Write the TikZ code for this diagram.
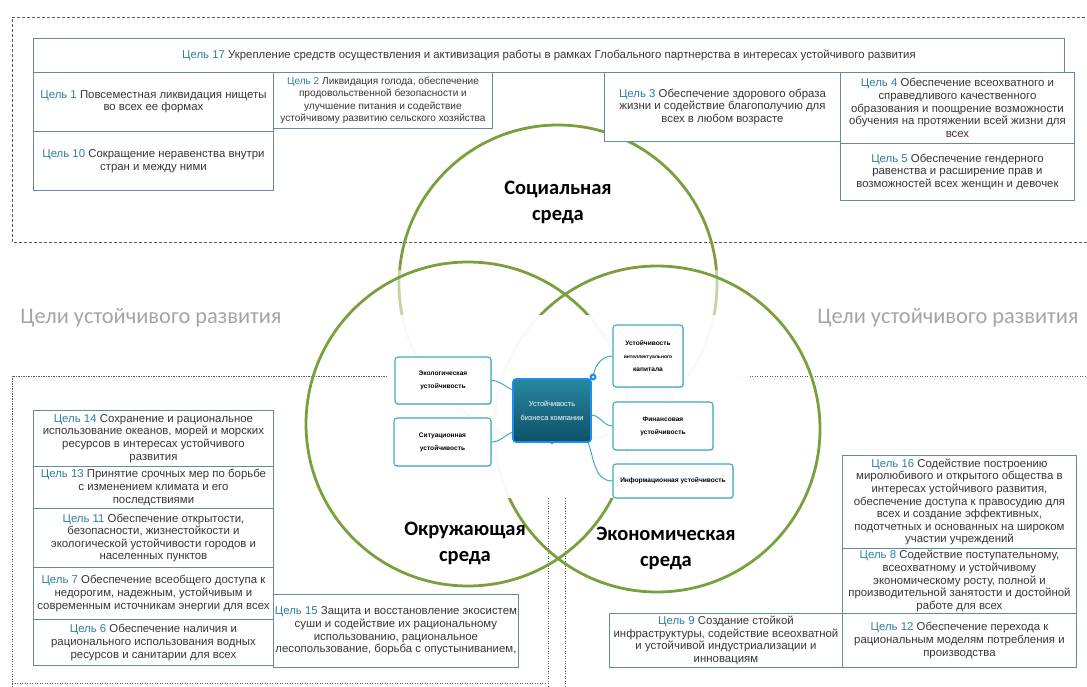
\documentclass[tikz,border=0pt]{standalone}
\usepackage{fontspec}
\setmainfont{Liberation Sans}
\newfontfamily\calfont{Carlito}
\usetikzlibrary{shadows}
\definecolor{greenc}{RGB}{122,160,62}
\definecolor{boxc}{RGB}{100,140,158}
\definecolor{textc}{RGB}{55,55,55}
\definecolor{goalc}{RGB}{49,128,155}
\definecolor{dashc}{RGB}{90,90,90}
\definecolor{mmc}{RGB}{64,170,190}
\definecolor{ctrtop}{RGB}{40,135,160}
\definecolor{ctrbot}{RGB}{12,82,104}
\definecolor{pinc}{RGB}{30,140,240}
\definecolor{headc}{RGB}{165,165,165}
\newcommand\cel[1]{{\color{goalc}Цель #1}}
\begin{document}
\begin{tikzpicture}[x=1pt,y=-1pt,
  box/.style={draw=boxc, line width=0.9pt, fill=white, anchor=north west, align=center,
    font=\fontsize{11.4}{12.6}\selectfont, text=textc, inner sep=1pt},
  regionline/.style={draw=dashc, line width=0.8pt, dash pattern=on 3pt off 2pt},
  dotline/.style={draw=dashc, line width=0.7pt, dash pattern=on 1.2pt off 1.3pt},
  ring/.style={draw=greenc, line width=2.8pt},
  mmnode/.style={draw=mmc, line width=1.1pt, fill=white, rounded corners=3pt, align=center,
    font=\fontsize{6.6}{13}\selectfont\bfseries, inner sep=1pt,
    drop shadow={opacity=0.25, shadow xshift=1pt, shadow yshift=-1.2pt}},
  conn/.style={draw=mmc, line width=1pt},
  envlabel/.style={align=center, font=\calfont\bfseries\fontsize{20.5}{26}\selectfont, text=black},
  headlabel/.style={font=\calfont\fontsize{22.4}{24}\selectfont, text=headc}]
\useasboundingbox (0,0) rectangle (1087,687);
\fill[white] (0,0) rectangle (1087,687);

% dashed regions
\draw[regionline] (1095,17) -- (12,17) -- (12,242) -- (1095,242);
\draw[dotline] (387,376) -- (12,376) -- (12,690);
\draw[dotline] (12,683) -- (545,683);
\draw[dotline] (548,498) -- (548,690);
\draw[dotline] (565,498) -- (565,690);
\draw[dotline] (737,376) -- (1090,376);

% circles
\draw[ring] (558,284) circle[radius=159];
\fill[white, opacity=0.55] (385,270) rectangle (735,316);
\draw[ring] (468,424) circle[radius=162];
\draw[ring] (657,429) circle[radius=163];
\fill[white, opacity=0.95] (390,315) rectangle (750,498);

% top boxes
\node[box, minimum width=1031pt, minimum height=34pt] (g17) at (33,38)
  {\cel{17} Укрепление средств осуществления и активизация работы в рамках Глобального партнерства в интересах устойчивого развития};
\node[box, minimum width=240pt, minimum height=59pt] (g1) at (33,72)
  {\cel{1} Повсеместная ликвидация нищеты\\во всех ее формах};
\node[box, minimum width=240pt, minimum height=59pt] (g10) at (33,131)
  {\cel{10} Сокращение неравенства внутри\\стран и между ними};
\node[box, font=\fontsize{10.1}{12.4}\selectfont, minimum width=219pt, minimum height=56pt] (g2) at (273,72)
  {\cel{2} Ликвидация голода, обеспечение\\продовольственной безопасности и\\улучшение питания и содействие\\устойчивому развитию сельского хозяйства};
\node[box, minimum width=236pt, minimum height=69pt] (g3) at (604,72)
  {\cel{3} Обеспечение здорового образа\\жизни и содействие благополучию для\\всех в любом возрасте};
\node[box, minimum width=234pt, minimum height=71pt] (g4) at (840,72)
  {\cel{4} Обеспечение всеохватного и\\справедливого качественного\\образования и поощрение возможности\\обучения на протяжении всей жизни для\\всех};
\node[box, minimum width=234pt, minimum height=57pt] (g5) at (840,143)
  {\cel{5} Обеспечение гендерного\\равенства и расширение прав и\\возможностей всех женщин и девочек};

% bottom-left boxes
\node[box, minimum width=240pt, minimum height=56pt] (g14) at (33,410)
  {\cel{14} Сохранение и рациональное\\использование океанов, морей и морских\\ресурсов в интересах устойчивого\\развития};
\node[box, minimum width=240pt, minimum height=42pt] (g13) at (33,466)
  {\cel{13} Принятие срочных мер по борьбе\\с изменением климата и его\\последствиями};
\node[box, minimum width=240pt, minimum height=59pt] (g11) at (33,508)
  {\cel{11} Обеспечение открытости,\\безопасности, жизнестойкости и\\экологической устойчивости городов и\\населенных пунктов};
\node[box, minimum width=240pt, minimum height=52pt] (g7) at (33,567)
  {\cel{7} Обеспечение всеобщего доступа к\\недорогим, надежным, устойчивым и\\современным источникам энергии для всех};
\node[box, minimum width=240pt, minimum height=46pt] (g6) at (33,619)
  {\cel{6} Обеспечение наличия и\\рационального использования водных\\ресурсов и санитарии для всех};
\node[box, minimum width=245pt, minimum height=73pt] (g15) at (273,594)
  {\cel{15} Защита и восстановление экосистем\\суши и содействие их рациональному\\использованию, рациональное\\лесопользование, борьба с опустыниванием,};

% bottom-right boxes
\node[box, minimum width=234pt, minimum height=93pt] (g16) at (842,455)
  {\cel{16} Содействие построению\\миролюбивого и открытого общества в\\интересах устойчивого развития,\\обеспечение доступа к правосудию для\\всех и создание эффективных,\\подотчетных и основанных на широком\\участии учреждений};
\node[box, minimum width=234pt, minimum height=65pt] (g8) at (842,548)
  {\cel{8} Содействие поступательному,\\всеохватному и устойчивому\\экономическому росту, полной и\\производительной занятости и достойной\\работе для всех};
\node[box, minimum width=234pt, minimum height=54pt] (g12) at (842,613)
  {\cel{12} Обеспечение перехода к\\рациональным моделям потребления и\\производства};
\node[box, minimum width=233pt, minimum height=54pt] (g9) at (609,613)
  {\cel{9} Создание стойкой\\инфраструктуры, содействие всеохватной\\и устойчивой индустриализации и\\инновациям};

% mind map
\node[mmnode, minimum width=96pt, minimum height=47pt] (eco) at (443,380.5) {Экологическая\\устойчивость};
\node[mmnode, minimum width=97pt, minimum height=48pt] (sit) at (442.5,442) {Ситуационная\\устойчивость};
\node[mmnode, minimum width=70pt, minimum height=62pt] (int) at (648,356)
  {Устойчивость\\{\fontsize{5}{13}\selectfont интеллектуального}\\капитала};
\node[mmnode, minimum width=100pt, minimum height=48pt] (fin) at (663,426) {Финансовая\\устойчивость};
\node[mmnode, minimum width=120pt, minimum height=34pt] (inf) at (673,481) {Информационная устойчивость};
\draw[conn] (513,390) to[out=160,in=0] (eco.east);
\draw[conn] (513,432) to[out=200,in=0] (sit.east);
\draw[conn] (593,380) to[out=90,in=180] (int.west);
\draw[conn] (591,415) to[out=0,in=180] (fin.west);
\draw[conn] (588,442) to[out=-70,in=180] (inf.west);
\node[draw=pinc, line width=1.6pt, rounded corners=3pt, top color=ctrtop, bottom color=ctrbot,
  minimum width=78pt, minimum height=63pt, align=center, text=white,
  font=\fontsize{7.4}{14}\selectfont, inner sep=1pt] (ctr) at (552,410.5)
  {Устойчивость\\бизнеса компании};
\node[circle, fill=pinc, minimum size=7pt, inner sep=0pt] (pin) at (593,377) {};
\node[circle, fill=white, minimum size=2.5pt, inner sep=0pt] (pindot) at (pin) {};
\node[circle, fill=pinc, minimum size=3pt, inner sep=0pt] (ctrdot) at (ctr.south) {};

% labels
\node[envlabel] (soc) at (558,202) {Социальная\\среда};
\node[envlabel] (env) at (465,543.5) {Окружающая\\среда};
\node[envlabel] (eco2) at (666,548.5) {Экономическая\\среда};
\node[headlabel] (hl) at (151,318) {Цели устойчивого развития};
\node[headlabel] (hr) at (948,318) {Цели устойчивого развития};
\end{tikzpicture}
\end{document}
